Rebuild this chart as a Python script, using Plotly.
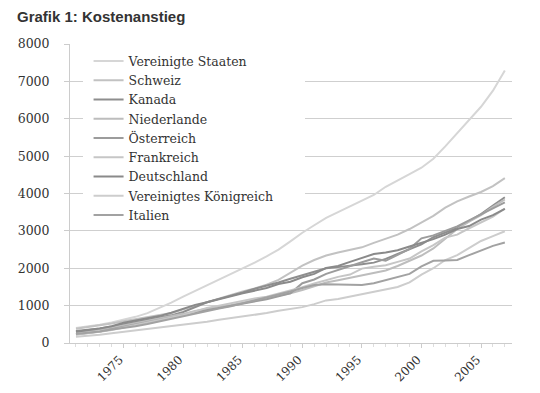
import plotly.graph_objects as go

years = list(range(1971, 2008))

series_names = ["Vereinigte Staaten", "Schweiz", "Kanada", "Niederlande", "Österreich",
                "Frankreich", "Deutschland", "Vereinigtes Königreich", "Italien"]

usa = [400, 440, 490, 550, 620, 700, 800, 930, 1080, 1240, 1390, 1540, 1680, 1830, 2000,
       2150, 2320, 2500, 2720, 2950, 3150, 3350, 3500, 3650, 3800, 3960, 4180, 4360, 4520,
       4690, 4930, 5260, 5620, 5950, 6320, 6750, 7290]
schweiz = [380, 420, 470, 520, 580, 630, 680, 730, 800, 900, 1000, 1100, 1190, 1280, 1380,
           1460, 1560, 1690, 1880, 2070, 2220, 2340, 2420, 2480, 2560, 2680, 2790, 2900, 3050,
           3220, 3400, 3620, 3790, 3920, 4040, 4200, 4410]
kanada = [320, 350, 390, 440, 500, 570, 620, 680, 740, 830, 960, 1090, 1180, 1260, 1350,
          1450, 1530, 1620, 1720, 1820, 1920, 2000, 2030, 2080, 2110, 2150, 2250, 2380, 2500,
          2640, 2830, 2960, 3080, 3260, 3450, 3680, 3900]
niederlande = [280, 320, 360, 410, 470, 530, 580, 640, 710, 780, 860, 930, 980, 1020, 1080,
               1140, 1200, 1260, 1330, 1420, 1520, 1620, 1680, 1740, 1820, 1870, 1940, 2060, 2200,
               2340, 2530, 2800, 3050, 3250, 3420, 3640, 3840]
oesterreich = [230, 270, 310, 370, 430, 490, 550, 600, 670, 740, 820, 880, 930, 980, 1040,
               1100, 1170, 1250, 1330, 1600, 1700, 1850, 1960, 2060, 2160, 2260, 2200, 2360, 2520,
               2800, 2880, 3000, 3120, 3280, 3450, 3600, 3760]
frankreich = [230, 260, 300, 350, 420, 480, 540, 610, 680, 750, 850, 940, 1000, 1070, 1140,
              1190, 1240, 1320, 1400, 1490, 1590, 1690, 1770, 1830, 1990, 2040, 2080, 2170, 2260,
              2450, 2620, 2820, 2900, 3070, 3230, 3380, 3600]
deutschland = [300, 340, 390, 450, 540, 600, 650, 720, 810, 920, 1020, 1090, 1160, 1250, 1330,
               1400, 1470, 1580, 1640, 1760, 1850, 2010, 2060, 2170, 2270, 2380, 2420, 2480, 2580,
               2670, 2780, 2900, 3050, 3130, 3300, 3420, 3590]
uk = [170, 190, 220, 260, 300, 340, 370, 410, 450, 480, 530, 570, 620, 660, 700,
      750, 800, 860, 910, 960, 1040, 1140, 1180, 1240, 1300, 1360, 1420, 1500, 1620,
      1830, 2000, 2220, 2350, 2550, 2730, 2860, 2990]
italien = [240, 270, 310, 360, 400, 450, 510, 580, 650, 730, 800, 860, 920, 980, 1060,
           1120, 1210, 1300, 1380, 1470, 1550, 1570, 1560, 1550, 1550, 1600, 1680, 1760, 1850,
           2050, 2200, 2210, 2220, 2350, 2480, 2600, 2690]

values = [usa, schweiz, kanada, niederlande, oesterreich, frankreich, deutschland, uk, italien]
colors = ["#d6d6d6", "#c2c2c2", "#8e8e8e", "#bdbdbd", "#9c9c9c",
          "#c6c6c6", "#8a8a8a", "#cdcdcd", "#a2a2a2"]

y_ticks = [0, 1000, 2000, 3000, 4000, 5000, 6000, 7000, 8000]
x_ticks = [1975, 1980, 1985, 1990, 1995, 2000, 2005]

serif = "DejaVu Serif"

fig = go.Figure()
for name, vals, col in zip(series_names, values, colors):
    fig.add_trace(go.Scatter(x=years, y=vals, mode="lines", name=name,
                             line=dict(color=col, width=2)))

# page body has an 8px default margin: positions below are shifted by -8px
fig.update_layout(
    width=540, height=393,
    margin=dict(l=62, r=36, t=36, b=58, autoexpand=False),
    paper_bgcolor="white", plot_bgcolor="white",
    title=dict(text="<b>Grafik 1: Kostenanstieg</b>", x=9/540, xanchor="left",
               y=1 - 9/393, yanchor="middle",
               font=dict(family="Liberation Sans", size=15, color="#333333")),
    legend=dict(x=0.042, y=0.992, xanchor="left", yanchor="top", bgcolor="white",
                font=dict(family="DejaVu Serif", size=12.5, color="#333333"),
                tracegroupgap=0, itemwidth=30),
    showlegend=True,
    # white legend panel hiding the gridlines behind the legend (as in the original)
    shapes=[dict(type="rect", xref="paper", yref="paper", x0=13/442, x1=235/442,
                 y0=1 - 184/299, y1=1 - 2/299, fillcolor="white", line=dict(width=0),
                 layer="above")],
)
fig.update_xaxes(range=[1970.5, 2007.6], tickmode="array", tickvals=x_ticks,
                 ticktext=[str(t) for t in x_ticks], tickangle=-45, automargin=False,
                 showgrid=False, showline=True, linecolor="#cccccc", linewidth=1,
                 ticks="outside", ticklen=4, tickcolor="#cccccc", ticklabelshift=-4,
                 minor=dict(dtick=1, tick0=1971, ticks="outside", ticklen=3, tickcolor="#dddddd"),
                 tickfont=dict(family=serif, size=12, color="#333333"), zeroline=False)
fig.update_yaxes(range=[0, 8000], tickmode="array", tickvals=y_ticks, automargin=False,
                 showgrid=True, gridcolor="#cfcfcf", gridwidth=1,
                 showline=True, linecolor="#cccccc", linewidth=1,
                 ticks="outside", ticklen=5, tickcolor="#cccccc",
                 ticklabelstandoff=12,
                 tickfont=dict(family=serif, size=12.5, color="#333333"), zeroline=False)

fig.write_html("out.html")
